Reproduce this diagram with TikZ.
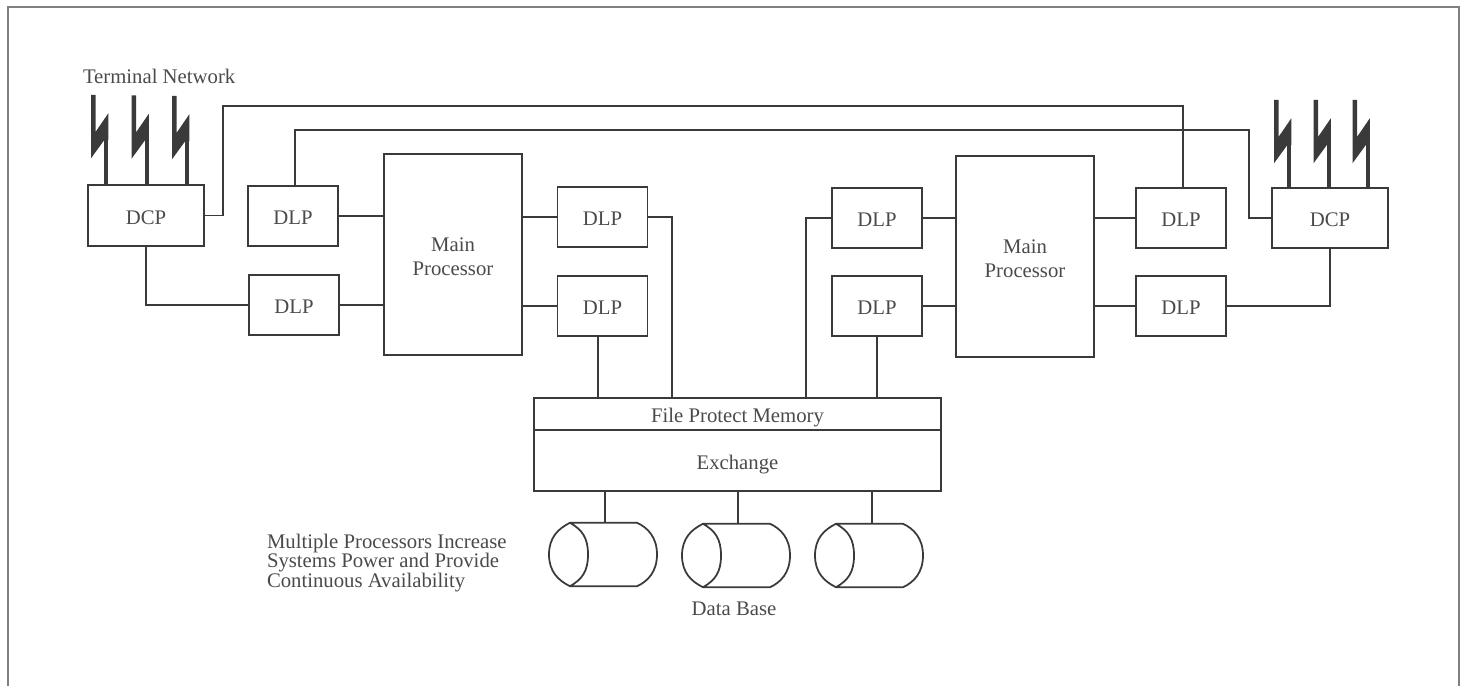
\documentclass[tikz,border=0pt]{standalone}
\usepackage{fontspec}
\setmainfont{Liberation Serif}
\usetikzlibrary{positioning,calc}

\definecolor{inkline}{HTML}{3A3A3A}
\definecolor{inktext}{HTML}{4A4A4A}
\definecolor{framegray}{HTML}{808080}

\begin{document}
\begin{tikzpicture}[
    x=0.02cm, y=-0.02cm,
    every node/.style={font=\fontsize{11.8}{11.2}\selectfont, text=inktext, inner sep=0pt, outer sep=0pt},
    box/.style={draw=inkline, line width=1pt, align=center},
    onetext/.style={text height=10.2pt, text depth=0pt},
    dcp/.style={box, onetext, minimum width=2.31cm, minimum height=1.21cm},
    dlp/.style={box, onetext, minimum width=1.8cm, minimum height=1.2cm},
    mainproc/.style={box, minimum width=2.76cm, minimum height=4.02cm},
    drum/.style={minimum width=2.16cm, minimum height=1.27cm},
    wire/.style={draw=inkline, line width=1pt},
    lbl/.style={align=left},
]
\useasboundingbox (0,0) rectangle (1466,686);

% Outer frame
\draw[framegray, line width=1pt] (8,686) -- (8,7) -- (1459,7) -- (1459,686);

% Labels
\node[lbl, anchor=west] (term) at (83,76) {Terminal Network};
\node[lbl, anchor=west] (note) at (267,563) {Multiple Processors Increase\\Systems Power and Provide\\Continuous Availability};
\node (base) at (734,609) {Data Base};

% Left side
\node[dcp] (dcpl) at (146,215.5) {DCP};
\node[dlp] (dlpa) at (293,216) {DLP};
\node[dlp] (dlpb) at (294,305) {DLP};
\node[mainproc] (procl) at (453,254.5) {\rule{0pt}{10.3pt}Main\\[0.08cm]Processor};
\node[dlp] (dlpc) at (602.5,217) {DLP};
\node[dlp] (dlpd) at (602.5,306) {DLP};

% Right side
\node[dlp] (dlpe) at (877,218) {DLP};
\node[dlp] (dlpf) at (877,306) {DLP};
\node[mainproc] (procr) at (1025,256.5) {\rule{0pt}{10.3pt}Main\\[0.08cm]Processor};
\node[dlp] (dlpg) at (1181,218) {DLP};
\node[dlp] (dlph) at (1181,306) {DLP};
\node[dcp] (dcpr) at (1330,218) {DCP};

% Shared memory and exchange
\node[box, onetext, minimum width=8.14cm, minimum height=0.64cm] (fpm) at (737.5,414) {File Protect Memory};
\node[box, onetext, minimum width=8.14cm, minimum height=1.22cm, below=0pt of fpm] (exch) {Exchange};

% Disk drums
\node[drum] (drma) at (603,554.5) {};
\node[drum] (drmb) at (736,555.5) {};
\node[drum] (drmc) at (869,555.5) {};
\foreach \d in {drma,drmb,drmc} {
    \draw[wire] ($(\d.north west)+(21,0)$) -- ($(\d.north east)+(-20,0)$)
        .. controls ($(\d.north east)+(-9,5)$) and ($(\d.east)+(0,-17)$) .. (\d.east)
        .. controls ($(\d.east)+(0,17)$) and ($(\d.south east)+(-9,-5)$) .. ($(\d.south east)+(-20,0)$)
        -- ($(\d.south west)+(21,0)$)
        .. controls ($(\d.south west)+(9,-6)$) and ($(\d.west)+(0,17)$) .. (\d.west)
        .. controls ($(\d.west)+(0,-17)$) and ($(\d.north west)+(9,6)$) .. ($(\d.north west)+(21,0)$)
        .. controls ($(\d.north west)+(33,7)$) and ($(\d.west)+(39,-17)$) .. ($(\d.west)+(39,0)$)
        .. controls ($(\d.west)+(39,17)$) and ($(\d.south west)+(33,-7)$) .. ($(\d.south west)+(21,0)$);
}

% Terminal lines
\foreach \bx/\by/\d in {0/0/dcpl, 40.5/0.5/dcpl, 81/1/dcpl, 1183/5/dcpr, 1222.5/5/dcpr, 1261.5/5/dcpr} {
    \coordinate (boltfoot) at ({\bx+106.3},0);
    \fill[inkline] ({\bx+91},{\by+95}) -- ({\bx+95.7},{\by+95}) -- ({\bx+95.7},{\by+131.7})
        -- ({\bx+108.3},{\by+113.3}) -- ({\bx+108.3},{\by+140}) -- ({\bx+104.3},{\by+140}) -- ({\bx+91},{\by+158.3}) -- cycle;
    \draw[inkline, line width=2.3pt] (boltfoot |- 0,{\by+125}) -- (boltfoot |- \d.north);
}

% Long runs over the top
\coordinate (runa) at (223,106);
\coordinate (runb) at (1249,130);
\draw[wire] (dcpl.east) -| (runa) -| ([xshift=0.04cm]dlpg.north);
\draw[wire] ([xshift=0.04cm]dlpa.north) |- (runb) |- (dcpr.west);
\draw[wire] (dcpl.south) |- (dlpb.west);
\draw[wire] (dcpr.south) |- (dlph.east);

% Processor to DLP
\draw[wire] (dlpa.east) -- (dlpa.east -| procl.west);
\draw[wire] (dlpb.east) -- (dlpb.east -| procl.west);
\draw[wire] (dlpc.west) -- (dlpc.west -| procl.east);
\draw[wire] (dlpd.west) -- (dlpd.west -| procl.east);
\draw[wire] (dlpe.east) -- (dlpe.east -| procr.west);
\draw[wire] (dlpf.east) -- (dlpf.east -| procr.west);
\draw[wire] (dlpg.west) -- (dlpg.west -| procr.east);
\draw[wire] (dlph.west) -- (dlph.west -| procr.east);

% DLP to file protect memory
\coordinate (tapc) at (672,398);
\coordinate (tape) at (806,398);
\draw[wire] (dlpc.east) -| (tapc);
\draw[wire] (dlpe.west) -| (tape);
\draw[wire] ([xshift=-0.09cm]dlpd.south) -- ([xshift=-0.09cm]dlpd.south |- fpm.north);
\draw[wire] (dlpf.south) -- (dlpf.south |- fpm.north);

% Exchange to drums
\draw[wire] ([xshift=0.04cm]drma.north) -- ([xshift=0.04cm]drma.north |- exch.south);
\draw[wire] ([xshift=0.04cm]drmb.north) -- ([xshift=0.04cm]drmb.north |- exch.south);
\draw[wire] ([xshift=0.06cm]drmc.north) -- ([xshift=0.06cm]drmc.north |- exch.south);
\end{tikzpicture}
\end{document}
